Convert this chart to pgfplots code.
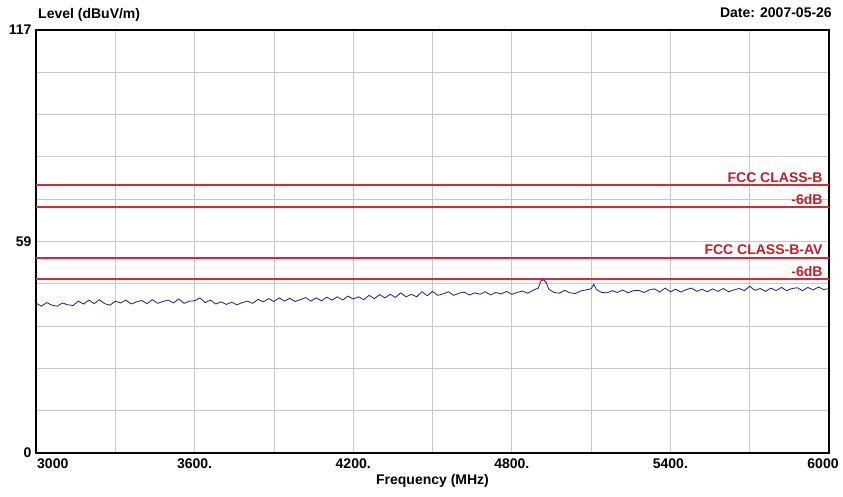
\documentclass[border=0pt]{standalone}
\usepackage{fontspec}
\setmainfont{Liberation Sans}
\usepackage{pgfplots}
\pgfplotsset{compat=1.18}

\definecolor{limred}{RGB}{205,45,55}
\definecolor{labred}{RGB}{190,30,40}
\definecolor{trace}{RGB}{30,30,120}
\definecolor{gridgray}{RGB}{200,200,200}

\newcommand{\lbl}{\fontsize{14}{16}\selectfont\bfseries}

\begin{document}
\begin{tikzpicture}
\begin{axis}[
  scale only axis,
  width=793pt, height=423pt,
  xmin=3000, xmax=6000,
  ymin=0, ymax=117,
  xtick={3600,4200,4800,5400},
  xticklabels={3600.,4200.,4800.,5400.},
  minor xtick={3000,3300,...,6000},
  ytick={0,58.5,117},
  yticklabels={0,59,117},
  minor ytick={11.7,23.4,35.1,46.8,70.2,81.9,93.6,105.3},
  major tick length=0pt, minor tick length=0pt,
  grid=both,
  major grid style={gridgray, line width=0.8pt},
  minor grid style={gridgray, line width=0.8pt},
  axis line style={black, line width=1.3pt},
  tick label style={font=\lbl},
  /pgf/number format/assume math mode=true,
  xticklabel style={anchor=north, yshift=-2pt},
  yticklabel style={anchor=east, xshift=-1pt},
  xlabel={Frequency (MHz)},
  xlabel style={font=\lbl, at={(axis description cs:0.5,0)}, anchor=north, yshift=-18pt},
  clip=false,
  limit/.style={color=limred, no marks, solid, line width=2pt},
]
% limit lines
\addplot[limit] table {
x y
3000 74
6000 74
};
\addplot[limit] table {
x y
3000 68
6000 68
};
\addplot[limit] table {
x y
3000 54
6000 54
};
\addplot[limit] table {
x y
3000 48
6000 48
};

% measured trace
\addplot[color=trace, no marks, solid, line width=0.8pt] coordinates {
(3000,41.5) (3020,40.6) (3040,41.6) (3060,40.9) (3080,40.6) (3100,41.5) (3120,41.0) (3140,40.8)
(3160,42.0) (3180,41.2) (3200,42.3) (3220,41.3) (3240,42.4) (3260,41.3) (3280,40.9) (3300,42.0)
(3320,41.5) (3340,42.3) (3360,41.2) (3380,41.8) (3400,42.2) (3420,41.3) (3440,42.4) (3460,41.4)
(3480,41.9) (3500,42.3) (3520,41.5) (3540,42.6) (3560,41.4) (3580,42.0) (3600,42.1) (3620,42.9)
(3640,41.6) (3660,42.3) (3680,41.2) (3700,41.8) (3720,41.1) (3740,41.7) (3760,41.0) (3780,41.6)
(3800,42.0) (3820,41.4) (3840,42.5) (3860,41.8) (3880,42.7) (3900,41.9) (3920,42.9) (3940,42.0)
(3960,42.8) (3980,41.9) (4000,42.4) (4020,43.0) (4040,42.0) (4060,42.9) (4080,42.1) (4100,43.1)
(4120,42.3) (4140,43.2) (4160,42.3) (4180,43.4) (4200,42.6) (4220,43.2) (4240,42.4) (4260,43.6)
(4280,42.7) (4300,43.8) (4320,42.9) (4340,43.9) (4360,43.0) (4380,44.3) (4400,43.2) (4420,43.9)
(4440,43.2) (4460,44.6) (4480,43.5) (4500,44.7) (4520,43.6) (4540,44.0) (4560,44.6) (4580,43.6)
(4600,44.2) (4620,44.5) (4640,43.7) (4660,44.3) (4680,43.9) (4700,44.6) (4720,43.7) (4740,44.4)
(4760,44.0) (4780,44.7) (4800,43.9) (4820,44.4) (4840,44.8) (4860,44.2) (4880,45.0) (4900,45.6)
(4910,47.6) (4920,47.9) (4930,47.2) (4940,45.3) (4960,44.4) (4980,44.2) (5000,45.0) (5020,44.3)
(5040,44.1) (5060,44.8) (5080,45.1) (5100,45.4) (5110,46.7) (5120,45.2) (5140,44.4) (5160,44.3)
(5180,44.9) (5200,44.4) (5220,45.1) (5240,44.3) (5260,44.9) (5280,45.0) (5300,44.4) (5320,45.1)
(5340,45.4) (5360,44.5) (5380,45.6) (5400,44.6) (5420,45.3) (5440,44.5) (5460,45.2) (5480,45.6)
(5500,44.7) (5520,45.3) (5540,44.6) (5560,45.4) (5580,44.7) (5600,45.5) (5620,44.6) (5640,45.1)
(5660,45.5) (5680,44.9) (5700,46.1) (5720,45.0) (5740,45.5) (5760,44.7) (5780,45.6) (5800,44.9)
(5820,45.8) (5840,44.9) (5860,45.5) (5880,45.7) (5900,44.9) (5920,45.8) (5940,45.1) (5960,45.9)
(5980,45.2) (6000,45.5)
};

% limit labels
\node[labred, font=\lbl, anchor=base east] at ([shift={(-3pt,3pt)}]axis cs:6000,74) {FCC CLASS-B};
\node[labred, font=\lbl, anchor=base east] at ([shift={(-3pt,3pt)}]axis cs:6000,68) {-6dB};
\node[labred, font=\lbl, anchor=base east] at ([shift={(-3pt,3pt)}]axis cs:6000,54) {FCC CLASS-B-AV};
\node[labred, font=\lbl, anchor=base east] at ([shift={(-3pt,3pt)}]axis cs:6000,48) {-6dB};

% end tick labels and headers
\node[font=\lbl, anchor=north west, inner sep=0pt] at ([shift={(1pt,-6pt)}]rel axis cs:0,0) {3000};
\node[font=\lbl, anchor=north, inner sep=0pt] at ([shift={(-6pt,-6pt)}]rel axis cs:1,0) {6000};
\node[font=\lbl, anchor=base west, inner sep=0pt] at ([shift={(2pt,11pt)}]rel axis cs:0,1) {Level (dBuV/m)};
\node[font=\lbl, anchor=base east, inner sep=0pt] at ([shift={(3pt,12pt)}]rel axis cs:1,1) {Date: 2007-05-26};
\end{axis}
\path ([shift={(-36pt,-44pt)}]current axis.south west) rectangle ([shift={(14pt,30pt)}]current axis.north east);
\end{tikzpicture}
\end{document}
